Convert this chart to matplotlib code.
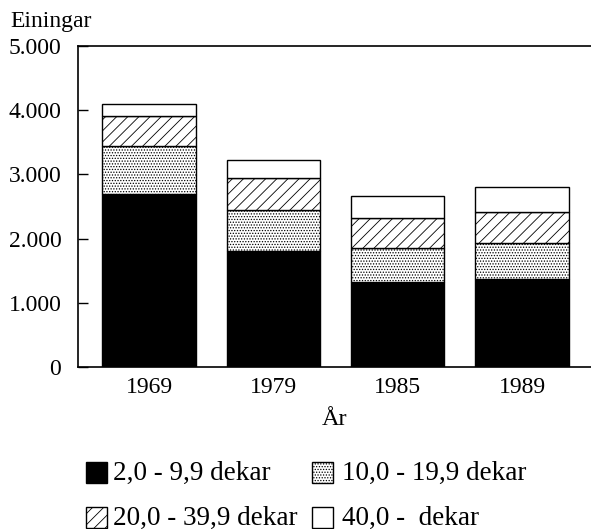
import matplotlib
matplotlib.use("Agg")
import matplotlib.pyplot as plt
from matplotlib.patches import Rectangle
import numpy as np

plt.rcParams['font.family'] = ['Liberation Serif', 'DejaVu Serif']
plt.rcParams['hatch.linewidth'] = 0.6

years = ["1969", "1979", "1985", "1989"]
series_names = ["2,0 - 9,9 dekar", "10,0 - 19,9 dekar", "20,0 - 39,9 dekar", "40,0 -  dekar"]
s1 = [2700, 1800, 1330, 1370]   # 2,0 - 9,9
s2 = [750, 650, 525, 555]       # 10,0 - 19,9
s3 = [465, 500, 465, 495]       # 20,0 - 39,9
s4 = [180, 270, 345, 380]       # 40,0 -
ytick_vals = [0, 1000, 2000, 3000, 4000, 5000]
ytick_labels = ["0", "1.000", "2.000", "3.000", "4.000", "5.000"]

W, H = 591, 529
fig = plt.figure(figsize=(W / 100, H / 100), dpi=100)
ax = fig.add_axes([78 / W, 1 - 367 / H, (591 - 78) / W, (367 - 46) / H])

styles = [
    dict(facecolor="black", hatch=None),
    dict(facecolor="white", hatch="......"),
    dict(facecolor="white", hatch="///"),
    dict(facecolor="white", hatch=None),
]
x = np.arange(len(years))
bottom = np.zeros(len(years))
for vals, st in zip([s1, s2, s3, s4], styles):
    ax.bar(x, vals, width=0.75, bottom=bottom, facecolor=st["facecolor"],
           hatch=st["hatch"], edgecolor="black", linewidth=1.0)
    bottom += np.array(vals)

ax.set_xlim(-0.571, 3.555)
ax.set_ylim(0, 5000)
ax.set_yticks(ytick_vals)
ax.set_yticklabels(ytick_labels, fontsize=17)
ax.set_xticks(x)
ax.set_xticklabels(years, fontsize=17)
ax.tick_params(axis="y", direction="in", length=7, width=1, pad=12)
ax.tick_params(axis="x", length=0, pad=7)
ax.spines["right"].set_visible(False)
for s in ["left", "top", "bottom"]:
    ax.spines[s].set_linewidth(1.2)

ax.set_xlabel("År", fontsize=17.5, labelpad=8)
fig.text(10 / W, 1 - 27 / H, "Einingar", fontsize=17, ha="left", va="baseline")

# legend
leg_items = [
    (86, 462, styles[0], series_names[0], 113),
    (312, 462, styles[1], series_names[1], 342),
    (86, 507, styles[2], series_names[2], 113),
    (312, 507, styles[3], series_names[3], 342),
]
for px, py, st, label, tx in leg_items:
    r = Rectangle((px / W, 1 - (py + 21) / H), 21 / W, 21 / H, transform=fig.transFigure,
                  facecolor=st["facecolor"], hatch=st["hatch"], edgecolor="black", linewidth=1.0)
    fig.patches.append(r)
    fig.text(tx / W, 1 - (py + 11) / H, label, fontsize=19.5, ha="left", va="center")

fig.savefig("out.png", dpi=100)
